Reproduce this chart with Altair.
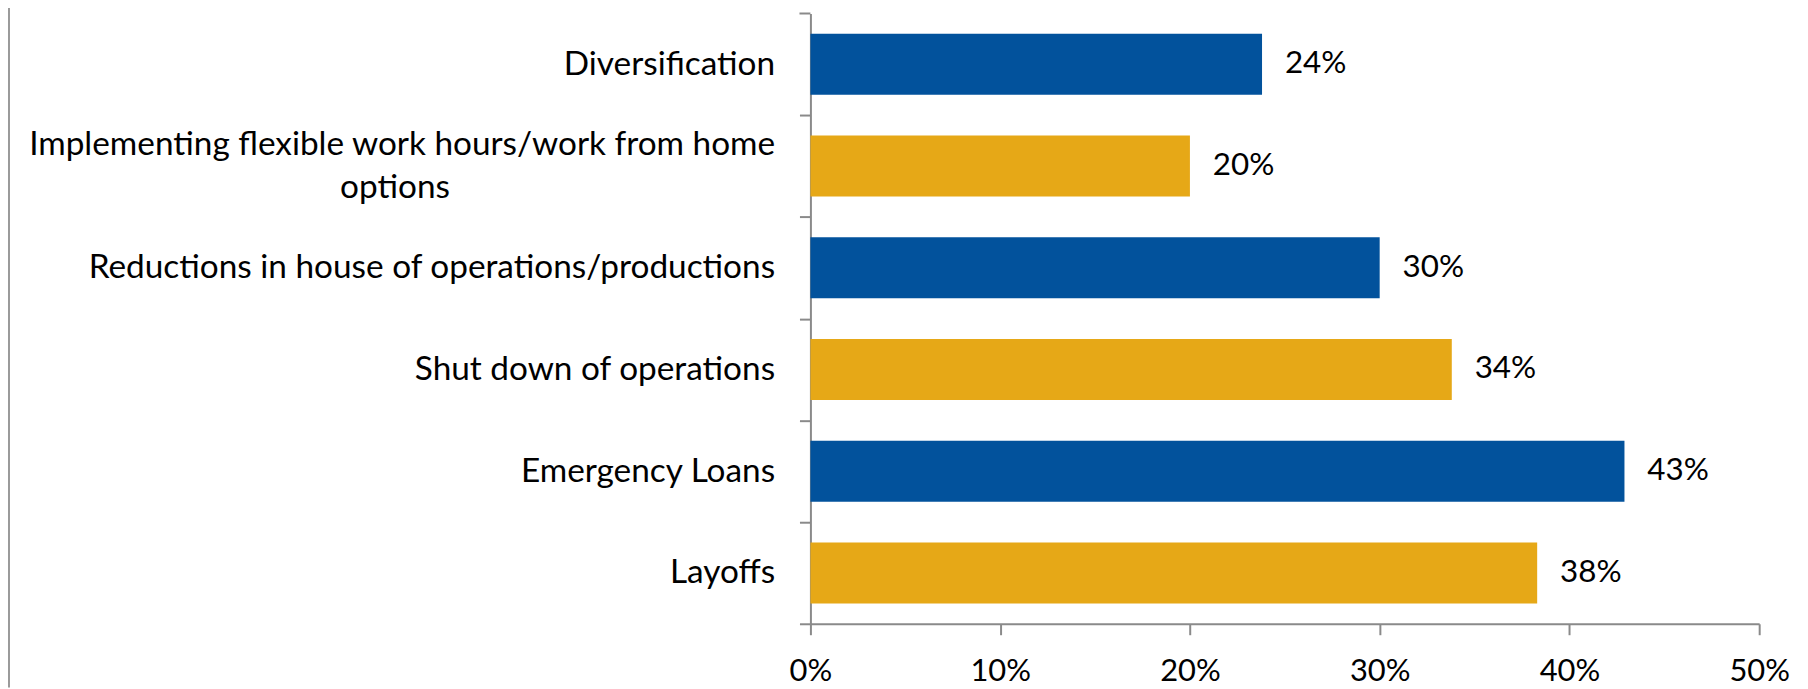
import altair as alt
import pandas as pd

categories = [
    "Diversification",
    "Implementing flexible work hours/work from home|options",
    "Reductions in house of operations/productions",
    "Shut down of operations",
    "Emergency Loans",
    "Layoffs",
]
values = [0.238, 0.200, 0.300, 0.338, 0.429, 0.383]
bar_colors = ["#02529C", "#E6A817", "#02529C", "#E6A817", "#02529C", "#E6A817"]
x_ticks = [0, 0.1, 0.2, 0.3, 0.4, 0.5]

df = pd.DataFrame({"Category": categories, "Value": values})

FONT = "Lato"
AXIS_GRAY = "#8A8A8A"
# spacing so the second line sits centred under the first (em spaces, then a zero-width char so it is not trimmed)
CENTER_PAD = "\u2003" * 13 + "\u200b"
HALF_STEP = 613 / 6 / 2

label_expr = (
    "indexof(datum.label, '|') >= 0 ? "
    "[split(datum.label, '|')[0], split(datum.label, '|')[1] + '" + CENTER_PAD + "'] : datum.label"
)

y_enc = alt.Y(
    "Category:N",
    sort=categories,
    scale=alt.Scale(paddingInner=0.4, paddingOuter=0.2),
    axis=alt.Axis(
        title=None,
        labelExpr=label_expr,
        labelFont=FONT,
        labelFontSize=33.5,
        labelColor="#000000",
        labelPadding=25,
        labelLineHeight=44,
        labelLimit=0,
        labelBaseline=alt.condition(
            "indexof(datum.value, '|') >= 0", alt.value("line-bottom"), alt.value("middle")
        ),
        tickOffset=HALF_STEP,
        labelOffset=-HALF_STEP,
        tickSize=11,
        tickColor=AXIS_GRAY,
        tickWidth=2,
        domainColor=AXIS_GRAY,
        domainWidth=2,
        grid=False,
    ),
)

x_enc = alt.X(
    "Value:Q",
    scale=alt.Scale(domain=[0, 0.5], nice=False),
    axis=alt.Axis(
        title=None,
        values=x_ticks,
        format=".0%",
        labelFont=FONT,
        labelFontSize=31,
        labelColor="#000000",
        labelPadding=22,
        tickSize=11,
        tickColor=AXIS_GRAY,
        tickWidth=2,
        domainColor=AXIS_GRAY,
        domainWidth=2,
        grid=False,
        labelFlush=False,
    ),
)

bars = alt.Chart(df).mark_bar().encode(
    x=x_enc,
    y=y_enc,
    color=alt.Color(
        "Category:N",
        scale=alt.Scale(domain=categories, range=bar_colors),
        legend=None,
    ),
)

labels = alt.Chart(df).mark_text(
    align="left", baseline="middle", dx=23, font=FONT, fontSize=31.5, color="#000000"
).encode(
    x=alt.X("Value:Q"),
    y=alt.Y("Category:N", sort=categories),
    text=alt.Text("Value:Q", format=".0%"),
)

top_tick = alt.Chart(df.head(1)).mark_rule(color=AXIS_GRAY, strokeWidth=2).encode(
    x=alt.value(-11),
    x2=alt.value(0),
    y=alt.value(0),
)

border = alt.Chart(df.head(1)).mark_rule(color="#9A9A9A", strokeWidth=2).encode(
    x=alt.value(-805),
    y=alt.value(-12),
    y2=alt.value(677),
)

chart = (
    alt.layer(bars, labels, top_tick, border)
    .properties(
        width=953,
        height=613,
        autosize=alt.AutoSizeParams(type="none"),
        padding={"left": 806, "top": 4, "right": 41, "bottom": 64},
        background="#FFFFFF",
    )
    .configure_view(stroke="transparent")
)

chart.save("out.html", embed_options={"renderer": "svg", "actions": False})
